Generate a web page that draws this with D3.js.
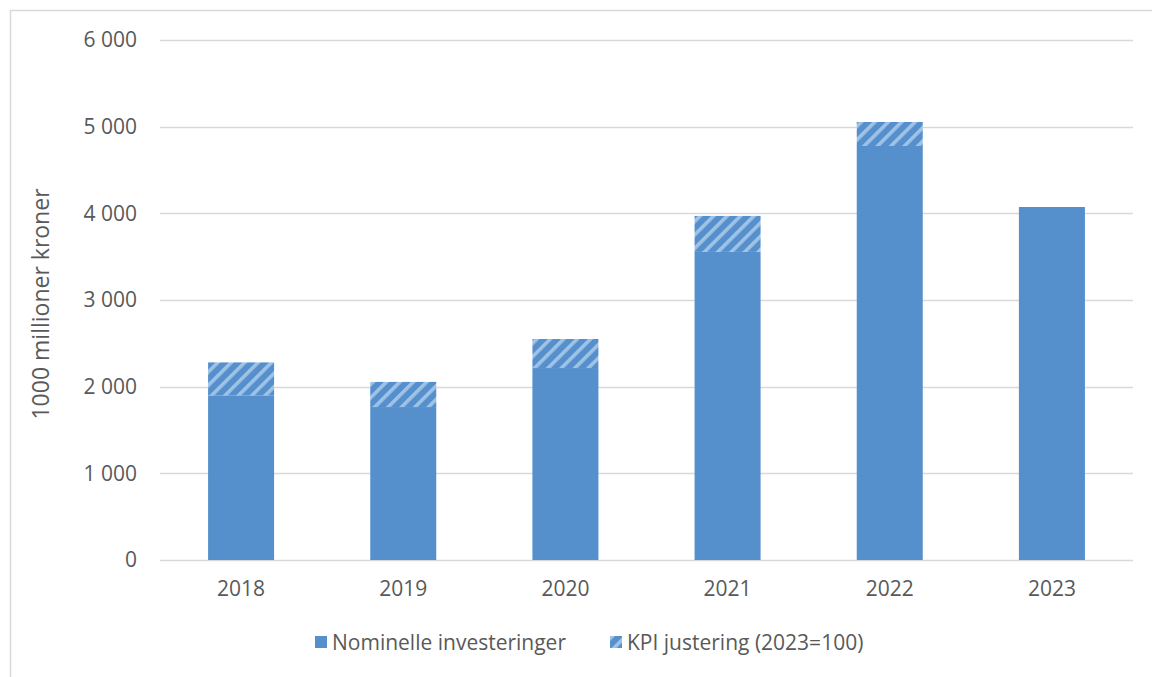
<!DOCTYPE html>
<html><head><meta charset="utf-8">
<script src="https://cdn.jsdelivr.net/npm/d3@7"></script>
<style>
body{margin:0;background:#fff;}
text{font-family:"Open Sans",sans-serif;fill:#595959;}
</style></head>
<body>
<svg id="c" width="1152" height="677"></svg>
<script>
const years = ["2018","2019","2020","2021","2022","2023"];
const nominal = [1900, 1765, 2215, 3555, 4777, 4073];
const kpiAdj = [380, 290, 335, 415, 277, 0];
const yTicks = [0,1000,2000,3000,4000,5000,6000];
const seriesNames = ["Nominelle investeringer","KPI justering (2023=100)"];
const yTitle = "1000 millioner kroner";

const svg = d3.select("#c");
const W=1152,H=677;
const m={l:160,r:19,t:40,b:117};
const barColor="#5590cd", hatchColor="#9fc2e7";

svg.append("rect").attr("x",10.5).attr("y",10.5).attr("width",W+10).attr("height",H+10)
  .attr("fill","#fff").attr("stroke","#d9d9d9").attr("stroke-width",1.5);

const defs=svg.append("defs");
const pw=9.5;
const pat=defs.append("pattern").attr("id","hatch").attr("patternUnits","userSpaceOnUse")
  .attr("width",pw).attr("height",pw).attr("patternTransform","rotate(45)");
pat.append("rect").attr("width",pw).attr("height",pw).attr("fill",barColor);
pat.append("rect").attr("x",0).attr("width",3.6).attr("height",pw).attr("fill",hatchColor);

const x=d3.scaleBand().domain(years).range([m.l,W-m.r]).paddingInner(0.593).paddingOuter(0.2965);
const y=d3.scaleLinear().domain([0,6000]).range([H-m.b,m.t]);

const fmt=v=>d3.format(",")(v).replace(/,/g," ");

const g=svg.append("g");
g.selectAll("line.grid").data(yTicks).join("line")
  .attr("x1",m.l).attr("x2",W-m.r)
  .attr("y1",d=>Math.round(y(d))+0.5).attr("y2",d=>Math.round(y(d))+0.5)
  .attr("stroke","#d9d9d9").attr("stroke-width",1.3);

const yAxis=d3.axisLeft(y).tickValues(yTicks).tickFormat(fmt).tickSize(0).tickPadding(23);
const ya=svg.append("g").attr("transform",`translate(${m.l},0)`).call(yAxis);
ya.select(".domain").remove();
ya.selectAll("text").style("font-size","21px").style("fill","#595959").style("font-family","Open Sans");

const xAxis=d3.axisBottom(x).tickSize(0).tickPadding(21);
const xa=svg.append("g").attr("transform",`translate(0,${H-m.b})`).call(xAxis);
xa.select(".domain").remove();
xa.selectAll("text").style("font-size","21px").style("fill","#595959").style("font-family","Open Sans");

svg.selectAll("rect.nom").data(years).join("rect").attr("class","nom")
  .attr("x",d=>x(d)).attr("width",x.bandwidth())
  .attr("y",(d,i)=>y(nominal[i])).attr("height",(d,i)=>y(0)-y(nominal[i]))
  .attr("fill",barColor);
svg.selectAll("rect.kpi").data(years).join("rect").attr("class","kpi")
  .attr("x",d=>x(d)).attr("width",x.bandwidth())
  .attr("y",(d,i)=>y(nominal[i]+kpiAdj[i])).attr("height",(d,i)=>y(nominal[i])-y(nominal[i]+kpiAdj[i]))
  .attr("fill","url(#hatch)");

svg.append("text").attr("transform","translate(41,304) rotate(-90)")
  .attr("text-anchor","middle").attr("dy","0.35em").style("font-size","23px").text(yTitle);

const leg=[{x:315,fill:barColor,t:seriesNames[0]},{x:610,fill:"url(#hatch)",t:seriesNames[1]}];
const lg=svg.selectAll("g.leg").data(leg).join("g").attr("transform",d=>`translate(${d.x},636)`);
lg.append("rect").attr("width",12).attr("height",12).attr("fill",d=>d.fill);
lg.append("text").attr("x",17).attr("y",7).attr("dy","0.35em").style("font-size","21px").text(d=>d.t);
</script>
</body></html>
